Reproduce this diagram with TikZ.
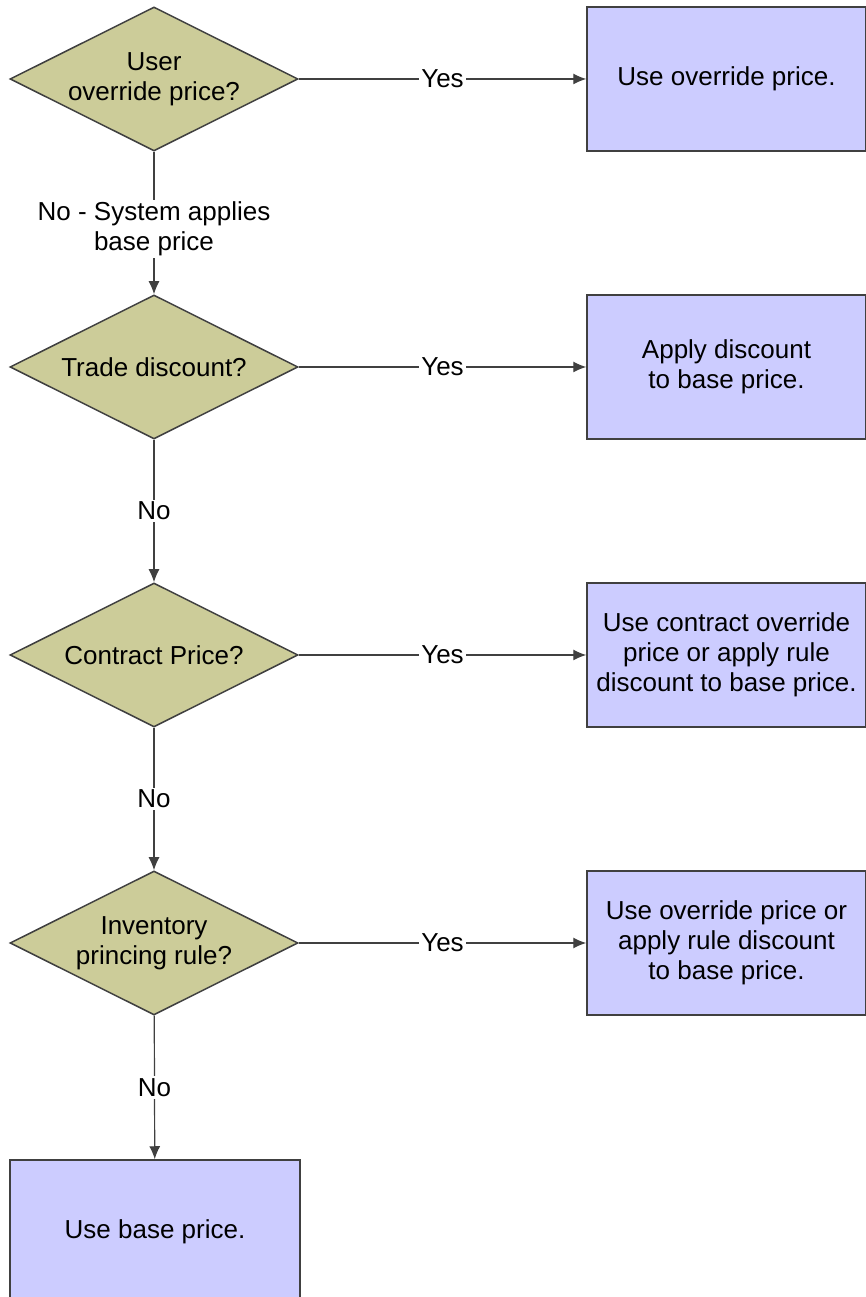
\documentclass[tikz,border=0pt]{standalone}
\usepackage{fontspec}
\setmainfont{Liberation Sans}
\usepackage{xcolor}
\usepackage{tikz}
\usetikzlibrary{shapes, arrows, arrows.meta, positioning, calc}
\definecolor{decisionfill}{rgb}{0.8,0.8,0.6}
\definecolor{actionfill}{rgb}{0.8,0.8,1}
\definecolor{linegray}{rgb}{0.25,0.25,0.25}

\begin{document}
\begin{tikzpicture}[x=1pt, y=1pt,
    every node/.append style={font=\fontsize{26}{30}\selectfont},
    decision/.style={diamond, draw=linegray, line width=1.5pt, fill=decisionfill, aspect=2, inner sep=0pt, minimum width=288pt, minimum height=144pt, align=center},
    action/.style={rectangle, draw=linegray, line width=1.5pt, fill=actionfill, minimum width=279pt, minimum height=144pt, inner sep=2pt, align=center},
    link/.style={draw=linegray, line width=1.2pt, -{Latex[length=13pt,width=11pt]}},
    lbl/.style={fill=white, inner sep=2pt, align=center}]
      \useasboundingbox (0,0) rectangle (865,1297);

      % decisions
      \node[decision] (user) at (154,1218) {User\\override price?};
      \node[decision] (trade) at (154,930) {Trade discount?};
      \node[decision] (contract) at (154,642) {Contract Price?};
      \node[decision] (inventory) at (154,354) {Inventory\\princing rule?};

      % actions
      \node[action] (useoverride) at (726.5,1218) {Use override price.};
      \node[action] (applydisc) at (726.5,930) {Apply discount\\to base price.};
      \node[action] (usecontract) at (726.5,642) {Use contract override\\price or apply rule\\discount to base price.};
      \node[action] (useinv) at (726.5,354) {Use override price or\\apply rule discount\\to base price.};
      \node[action, minimum width=290pt] (usebase) at (155,65) {Use base price.};

      \draw[link] (user) -- node[lbl] {Yes} (useoverride);
      \draw[link] (trade) -- node[lbl] {Yes} (applydisc);
      \draw[link] (contract) -- node[lbl] {Yes} (usecontract);
      \draw[link] (inventory) -- node[lbl] {Yes} (useinv);

      \draw[link] (user) -- node[lbl, pos=0.54] {No - System applies\\base price} (trade);
      \draw[link] (trade) -- node[lbl] {No} (contract);
      \draw[link] (contract) -- node[lbl] {No} (inventory);
      \draw[link] (inventory) -- node[lbl] {No} (usebase);
\end{tikzpicture}
\end{document}
